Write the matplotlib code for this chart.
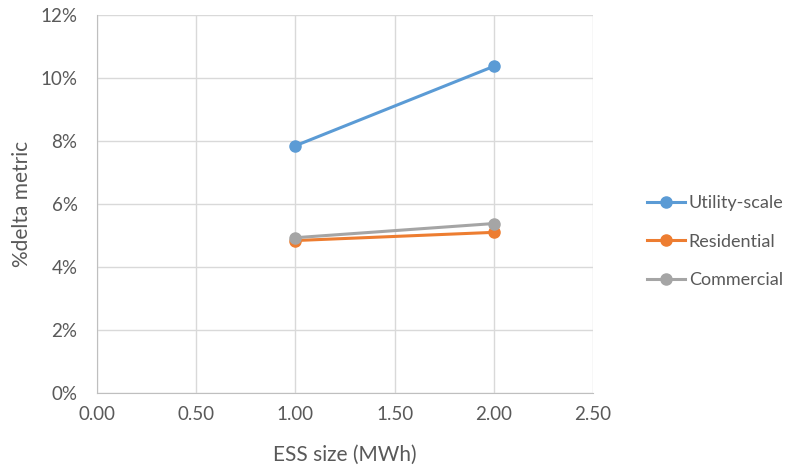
import matplotlib.pyplot as plt
from matplotlib.ticker import FuncFormatter

plt.rcParams['font.family'] = ['Lato', 'DejaVu Sans']

ess_size = [1.0, 2.0]
utility = [7.85, 10.37]
residential = [4.84, 5.10]
commercial = [4.93, 5.38]

series = [
    ('Utility-scale', utility, '#5B9BD5'),
    ('Residential', residential, '#ED7D31'),
    ('Commercial', commercial, '#A5A5A5'),
]

text_c = '#595959'
grid_c = '#D9D9D9'

fig = plt.figure(figsize=(8.05, 4.69), dpi=100)
ax = fig.add_axes([97 / 805, 1 - 393 / 469, (593 - 97) / 805, (393 - 15) / 469])

for name, vals, col in series:
    ax.plot(ess_size, vals, color=col, lw=2.2, marker='o', ms=8, label=name)

ax.set_xlim(0, 2.5)
ax.set_ylim(0, 12)
ax.set_xticks([0, 0.5, 1.0, 1.5, 2.0, 2.5])
ax.set_yticks(range(0, 13, 2))
ax.xaxis.set_major_formatter(FuncFormatter(lambda v, p: f'{v:.2f}'))
ax.yaxis.set_major_formatter(FuncFormatter(lambda v, p: f'{v:.0f}%'))
ax.grid(True, color=grid_c, lw=1)
ax.set_axisbelow(True)
for s in ['top', 'right']:
    ax.spines[s].set_visible(False)
for s in ['left', 'bottom']:
    ax.spines[s].set_color('#BFBFBF')
ax.tick_params(length=0, colors=text_c, labelsize=13.5)
ax.tick_params(axis='x', pad=9)
ax.tick_params(axis='y', pad=14)

ax.set_xlabel('ESS size (MWh)', color=text_c, fontsize=15, labelpad=16)
ax.set_ylabel('%delta metric', color=text_c, fontsize=15, labelpad=6)

ax.legend(loc='center left', bbox_to_anchor=(1.095, 0.4), frameon=False,
          fontsize=13, labelcolor=text_c, handlelength=2.1, handletextpad=0.2,
          labelspacing=1.25, borderaxespad=0)

fig.savefig('out.png', dpi=100)
